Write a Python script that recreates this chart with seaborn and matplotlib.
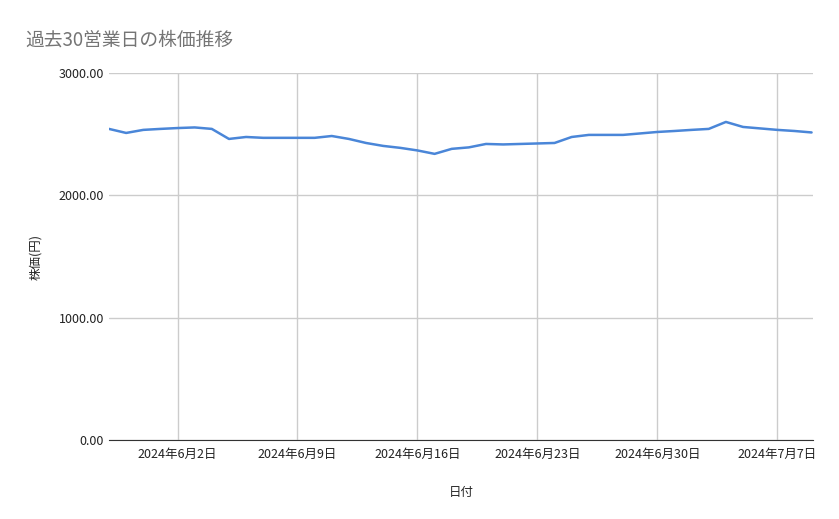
import matplotlib
matplotlib.use("Agg")
import matplotlib.pyplot as plt
import seaborn as sns
import pandas as pd

dates = pd.date_range("2024-05-29", "2024-07-09", freq="D")
prices = [2543, 2510, 2535, 2543, 2550, 2555, 2543, 2461, 2477, 2470,
          2470, 2470, 2470, 2485, 2461, 2428, 2404, 2388, 2367, 2339,
          2380, 2392, 2420, 2416, 2420, 2424, 2428, 2477, 2494, 2494,
          2494, 2506, 2518, 2526, 2535, 2543, 2600, 2559, 2547, 2535,
          2526, 2514]
df = pd.DataFrame({"date": dates, "price": prices})

sns.set_style("white")
plt.rcParams['font.family'] = ['Noto Sans CJK JP', 'DejaVu Sans']

fig = plt.figure(figsize=(8.39, 5.19), dpi=100)
ax = fig.add_axes([109/839, 1-440/519, (813-109)/839, (440-73)/519])
sns.lineplot(data=df, x="date", y="price", ax=ax, color="#4a86d8", linewidth=1.8)
ax.set_xlim(pd.Timestamp("2024-05-29"), pd.Timestamp("2024-07-10") - pd.Timedelta(hours=22))
ax.set_ylim(0, 3000)
ax.set_yticks([0, 1000, 2000, 3000])
ax.set_yticklabels(["0.00", "1000.00", "2000.00", "3000.00"])
ticks = pd.to_datetime(["2024-06-02", "2024-06-09", "2024-06-16", "2024-06-23", "2024-06-30", "2024-07-07"])
ax.set_xticks(ticks)
ax.set_xticklabels([f"2024年{d.month}月{d.day}日" for d in ticks])
ax.grid(True, color="#cccccc", linewidth=1)
for s in ["top", "right", "left"]:
    ax.spines[s].set_visible(False)
ax.spines["bottom"].set_color("#333333")
ax.tick_params(length=0, labelsize=9, colors="#222222")
ax.tick_params(axis="x", pad=6)
ax.set_xlabel("日付", fontsize=9, labelpad=18)
ax.set_ylabel("株価(円)", fontsize=9, labelpad=12)
fig.text(25/839, 1-40/519, "過去30営業日の株価推移", fontsize=13.5, color="#757575", va="center")
fig.savefig("out.png", dpi=100)
